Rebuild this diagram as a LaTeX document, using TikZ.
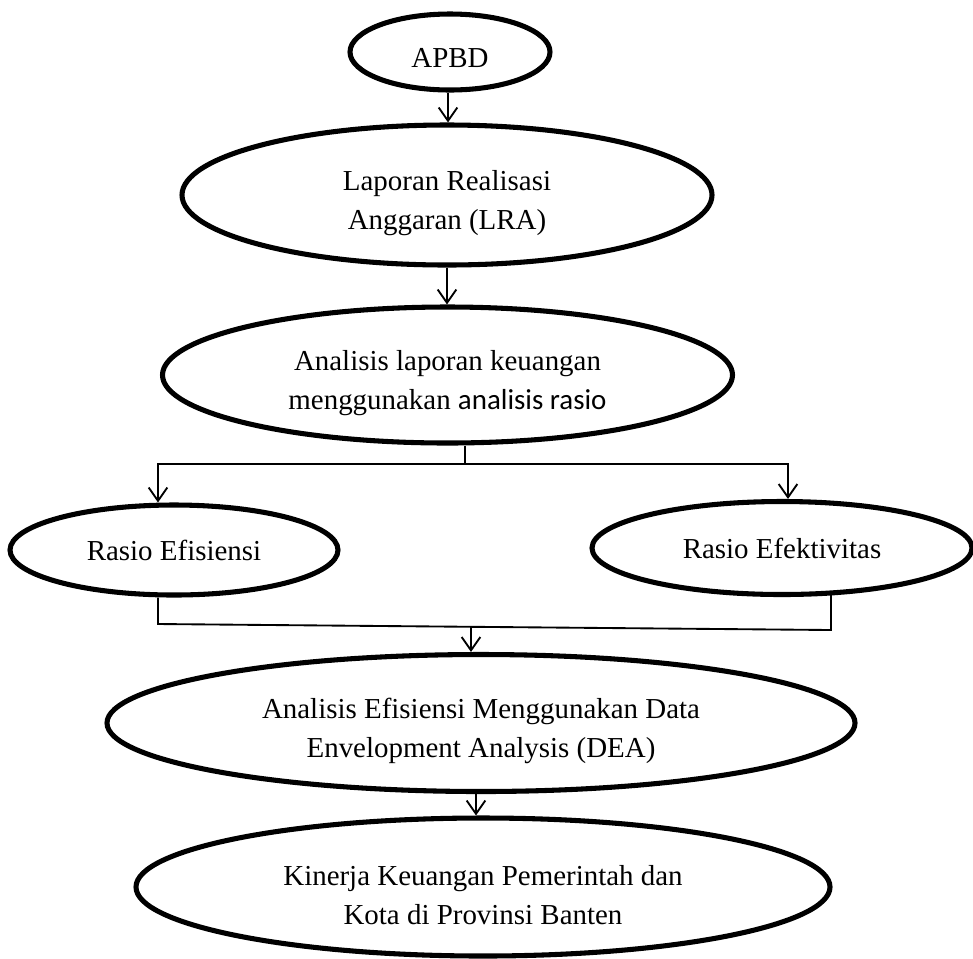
\documentclass[tikz,border=0pt]{standalone}
\usepackage{fontspec}
\setmainfont{Liberation Serif}
\newfontfamily\calfont{Carlito}
\usetikzlibrary{arrows.meta,shapes.geometric,calc}
\newcommand{\toppad}{\rule{0pt}{27pt}}
\begin{document}
\begin{tikzpicture}[x=0.75pt,y=-0.75pt,
  oval/.style={draw=black,line width=3.8pt,ellipse,inner sep=0pt,align=center,
    font=\fontsize{21.7}{29.2}\selectfont},
  conn/.style={draw=black,line width=1.4pt},
  arr/.style={conn,-{Straight Barb[length=10pt,width=14pt]}}]
\fill[white] (0,0) rectangle (973,958);
\useasboundingbox (0,0) rectangle (973,958);

\node[oval,minimum width=150pt,minimum height=57pt] (apbd) at (450,52) {\rule{0pt}{24pt}APBD};
\node[oval,minimum width=397.5pt,minimum height=105pt] (lra) at (447,195)
  {\toppad Laporan Realisasi\\Anggaran (LRA)};
\node[oval,minimum width=427.5pt,minimum height=102pt] (ana) at (447.5,375)
  {\toppad Analisis laporan keuangan\\menggunakan {\calfont analisis rasio}};
\node[oval,minimum width=246pt,minimum height=67.5pt] (ef) at (174,550) {Rasio Efisiensi};
\node[oval,minimum width=285pt,minimum height=69.75pt] (ek) at (782,548) {Rasio Efektivitas};
\node[oval,minimum width=561pt,minimum height=102.75pt] (dea) at (481,723)
  {\toppad Analisis Efisiensi Menggunakan Data\\Envelopment Analysis (DEA)};
\node[oval,minimum width=520.5pt,minimum height=103.5pt] (kin) at (483,887)
  {\toppad Kinerja Keuangan Pemerintah dan\\Kota di Provinsi Banten};

% APBD -> LRA
\coordinate (a1s) at ($(apbd.south)+(-2,0)$);
\draw[arr] (a1s) -- (a1s |- lra.north);
% LRA -> analisis
\draw[arr] (lra.south) -- (lra.south |- ana.north);
% split
\coordinate (j1) at (465,464);
\draw[conn] (j1 |- ana.south) -- (j1);
\coordinate (eft) at ($(ef.north)+(-16,0)$);
\coordinate (ekt) at ($(ek.north)+(6,0)$);
\draw[arr] (j1) -| (eft);
\draw[arr] (j1) -| (ekt);
% merge
\coordinate (efb) at ($(ef.south)+(-16,0)$);
\coordinate (ekb) at ($(ek.south)+(49,-2)$);
\coordinate (bl) at (158,624);
\coordinate (br) at (831,630);
\coordinate (bm) at (471,627);
\draw[conn] (efb) -- (bl) -- (br) -- (ekb);
\draw[arr] (bm) -- (bm |- dea.north);
% DEA -> Kinerja
\coordinate (ds) at ($(dea.south)+(-5,0)$);
\draw[arr] (ds) -- (ds |- kin.north);
\end{tikzpicture}
\end{document}
